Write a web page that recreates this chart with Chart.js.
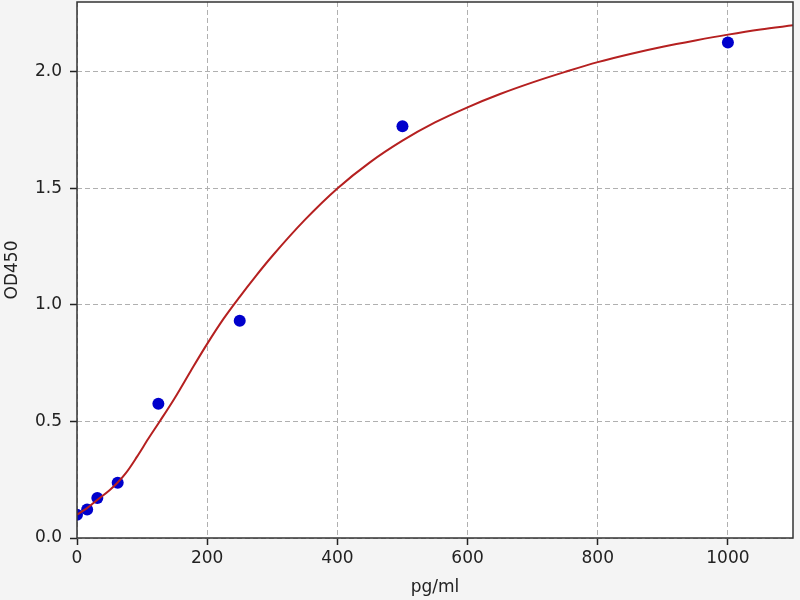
<!DOCTYPE html>
<html>
<head>
<meta charset="utf-8">
<script src="https://cdn.jsdelivr.net/npm/chart.js@4.4.1/dist/chart.umd.min.js"></script>
<style>
  html, body { margin: 0; padding: 0; background: #f4f4f4; }
  #wrap { width: 800px; height: 600px; }
</style>
</head>
<body>
<div id="wrap"><canvas id="c" width="800" height="600"></canvas></div>
<script>
// Standard points (concentration pg/ml, OD450)
const stdConc = [0, 15.6, 31.25, 62.5, 125, 250, 500, 1000];
const stdOD   = [0.10, 0.122, 0.172, 0.237, 0.576, 0.932, 1.767, 2.126];

// Fitted curve
const curveConc = [0, 15, 31, 50, 62.5, 75, 92, 110, 127, 150, 175, 200, 225, 250, 275, 300, 350, 400, 450, 500, 550, 600, 650, 700, 750, 800, 850, 900, 950, 1000, 1050, 1100];
const curveOD   = [0.100, 0.127, 0.163, 0.205, 0.238, 0.278, 0.348, 0.428, 0.500, 0.600, 0.718, 0.833, 0.940, 1.035, 1.125, 1.210, 1.365, 1.500, 1.612, 1.705, 1.783, 1.848, 1.905, 1.955, 2.000, 2.042, 2.077, 2.108, 2.135, 2.160, 2.182, 2.200];

// Tick labels
const xTicks = [0, 200, 400, 600, 800, 1000];
const yTicks = [0.0, 0.5, 1.0, 1.5, 2.0];

const xTitle = 'pg/ml';
const yTitle = 'OD450';

const FONT = 'DejaVu Sans';

const bgPlugin = {
  id: 'bgPlugin',
  beforeDraw(chart) {
    const {ctx, chartArea: a} = chart;
    ctx.save();
    ctx.fillStyle = '#f4f4f4';
    ctx.fillRect(0, 0, chart.width, chart.height);
    ctx.fillStyle = '#ffffff';
    ctx.fillRect(a.left, a.top, a.right - a.left, a.bottom - a.top);
    ctx.restore();
  },
  afterDraw(chart) {
    const {ctx, chartArea: a} = chart;
    ctx.save();
    ctx.strokeStyle = '#333333';
    ctx.lineWidth = 1.5;
    ctx.setLineDash([]);
    ctx.strokeRect(a.left, a.top, a.right - a.left, a.bottom - a.top);
    ctx.restore();
  }
};

const ctx = document.getElementById('c').getContext('2d');
new Chart(ctx, {
  type: 'scatter',
  data: {
    datasets: [
      {
        label: 'fit',
        data: curveConc.map((x, i) => ({x: x, y: curveOD[i]})),
        showLine: true,
        borderColor: '#b52020',
        borderWidth: 2,
        pointRadius: 0,
        cubicInterpolationMode: 'monotone',
        fill: false
      },
      {
        label: 'standards',
        data: stdConc.map((x, i) => ({x: x, y: stdOD[i]})),
        backgroundColor: '#0000cc',
        borderColor: '#0000cc',
        borderWidth: 0,
        pointRadius: 6,
        pointHoverRadius: 6
      }
    ]
  },
  plugins: [bgPlugin],
  options: {
    responsive: false,
    animation: false,
    devicePixelRatio: 1,
    layout: { autoPadding: false, padding: { top: 2, right: 7, left: 0, bottom: 0 } },
    plugins: {
      legend: { display: false },
      tooltip: { enabled: false }
    },
    scales: {
      x: {
        type: 'linear',
        min: 0,
        max: 1100,
        afterBuildTicks(scale) {
          scale.ticks = xTicks.map(v => ({value: v}));
        },
        afterFit(scale) {
          scale.height = 62;
          scale.paddingLeft = 0;
          scale.paddingRight = 0;
        },
        ticks: {
          color: '#222222',
          font: { family: FONT, size: 17 },
          padding: 3,
          maxRotation: 0,
          autoSkip: false,
          callback: v => String(v)
        },
        grid: {
          color: '#b0b0b0',
          lineWidth: 1,
          drawTicks: true,
          tickLength: 7,
          tickColor: '#222222',
          tickWidth: 1.5,
          tickBorderDash: []
        },
        border: { display: false, dash: [5, 3] },
        title: {
          display: true,
          text: xTitle,
          color: '#222222',
          font: { family: FONT, size: 17 },
          padding: { top: 0, bottom: 2 }
        }
      },
      y: {
        type: 'linear',
        min: 0,
        max: 2.3,
        afterBuildTicks(scale) {
          scale.ticks = yTicks.map(v => ({value: v}));
        },
        afterFit(scale) {
          scale.width = 77;
          scale.paddingTop = 0;
          scale.paddingBottom = 0;
        },
        ticks: {
          color: '#222222',
          font: { family: FONT, size: 17 },
          padding: 8,
          autoSkip: false,
          callback: v => Number(v).toFixed(1)
        },
        grid: {
          color: '#b0b0b0',
          lineWidth: 1,
          drawTicks: true,
          tickLength: 7,
          tickColor: '#222222',
          tickWidth: 1.5,
          tickBorderDash: []
        },
        border: { display: false, dash: [5, 3] },
        title: {
          display: true,
          text: yTitle,
          color: '#222222',
          font: { family: FONT, size: 17 },
          padding: { top: 2, bottom: 0 }
        }
      }
    }
  }
});
</script>
</body>
</html>
